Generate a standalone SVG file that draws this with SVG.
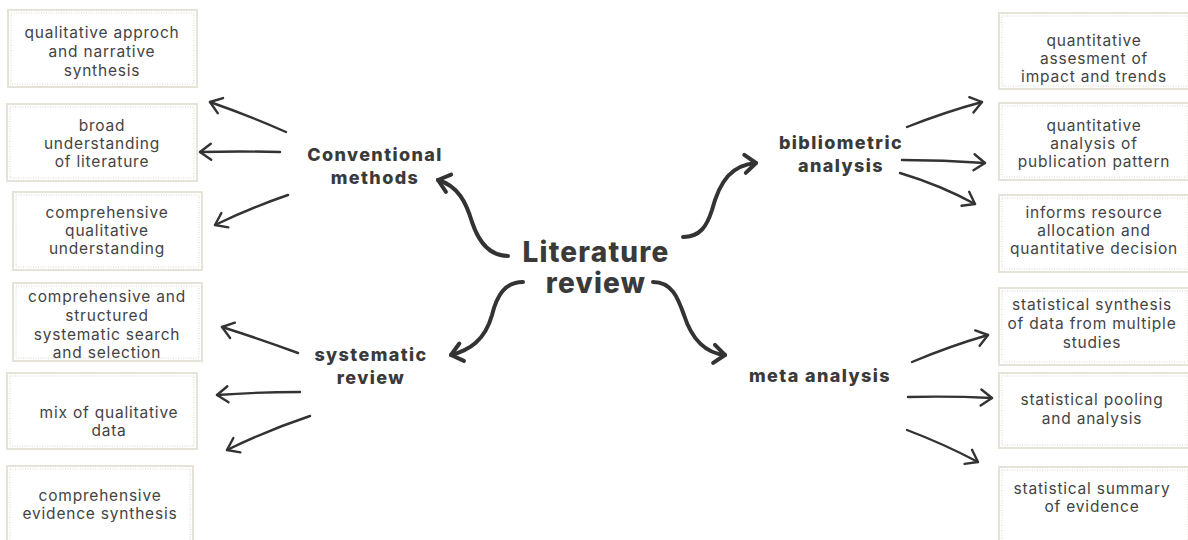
<svg xmlns="http://www.w3.org/2000/svg" width="1188" height="540" viewBox="0 0 1188 540">
  <style>
    .box-outer { fill: #ffffff; stroke: #e5e2d7; stroke-width: 2; }
    .box-inner { fill: none; stroke: #d9d6cb; stroke-width: 1; stroke-dasharray: 1 1.5; }
    .txt { font-family: Inter, "Open Sans", sans-serif; font-size: 15.5px; letter-spacing: 0.8px; fill: #444444; text-anchor: middle; }
    .cat { font-family: Inter, "Open Sans", sans-serif; font-size: 18px; letter-spacing: 1.4px; font-weight: 800; fill: #3a3a3a; text-anchor: middle; }
    .hub { font-family: Inter, "Open Sans", sans-serif; font-size: 28px; letter-spacing: 1.2px; font-weight: 800; fill: #3a3a3a; text-anchor: middle; }
    .thin { fill: none; stroke: #333333; stroke-width: 2.4; stroke-linecap: round; marker-end: url(#headThin); }
    .thick { fill: none; stroke: #333333; stroke-width: 4; stroke-linecap: round; marker-end: url(#headThick); }
  </style>
  <defs>
    <marker id="headThin" markerUnits="userSpaceOnUse" viewBox="-14 -10 18 20" markerWidth="18" markerHeight="20" refX="0" refY="0" orient="auto">
      <path d="M-11,-8 L0,0 L-11,8" fill="none" stroke="#333333" stroke-width="2.4" stroke-linecap="round" stroke-linejoin="round"/>
    </marker>
    <marker id="headThick" markerUnits="userSpaceOnUse" viewBox="-14 -12 20 24" markerWidth="20" markerHeight="24" refX="0" refY="0" orient="auto">
      <path d="M-11,-9 L0,0 L-11,9" fill="none" stroke="#333333" stroke-width="4" stroke-linecap="round" stroke-linejoin="round"/>
    </marker>
  </defs>

  <rect x="0" y="0" width="1188" height="540" fill="#ffffff"/>

  <!-- central topic -->
  <g id="literature-review">
    <text class="hub" x="596" y="262">Literature</text>
    <text class="hub" x="596" y="293">review</text>
  </g>

  <!-- branch labels -->
  <g id="conventional-methods">
    <text class="cat" x="375" y="161">Conventional</text>
    <text class="cat" x="375" y="184">methods</text>
  </g>
  <g id="bibliometric-analysis">
    <text class="cat" x="841" y="149">bibliometric</text>
    <text class="cat" x="841" y="172">analysis</text>
  </g>
  <g id="systematic-review">
    <text class="cat" x="371" y="361">systematic</text>
    <text class="cat" x="371" y="384">review</text>
  </g>
  <g id="meta-analysis">
    <text class="cat" x="820" y="382">meta analysis</text>
  </g>

  <!-- left column boxes -->
  <g id="qualitative-approach">
    <rect class="box-outer" x="8" y="10" width="189" height="77"/>
    <rect class="box-inner" x="11" y="13" width="183" height="71"/>
    <text class="txt" x="102" y="38">qualitative approch</text>
    <text class="txt" x="102" y="57">and narrative</text>
    <text class="txt" x="102" y="76">synthesis</text>
  </g>
  <g id="broad-understanding">
    <rect class="box-outer" x="7" y="104" width="190" height="77"/>
    <rect class="box-inner" x="10" y="107" width="184" height="71"/>
    <text class="txt" x="102" y="131">broad</text>
    <text class="txt" x="102" y="149">understanding</text>
    <text class="txt" x="102" y="167">of literature</text>
  </g>
  <g id="comprehensive-qualitative">
    <rect class="box-outer" x="13" y="192" width="189" height="78"/>
    <rect class="box-inner" x="16" y="195" width="183" height="72"/>
    <text class="txt" x="107" y="218">comprehensive</text>
    <text class="txt" x="107" y="236">qualitative</text>
    <text class="txt" x="107" y="254">understanding</text>
  </g>
  <g id="structured-search">
    <rect class="box-outer" x="13" y="283" width="189" height="78"/>
    <rect class="box-inner" x="16" y="286" width="183" height="72"/>
    <text class="txt" x="107" y="302">comprehensive and</text>
    <text class="txt" x="107" y="321">structured</text>
    <text class="txt" x="107" y="340">systematic search</text>
    <text class="txt" x="107" y="358">and selection</text>
  </g>
  <g id="mix-qualitative">
    <rect class="box-outer" x="7" y="373" width="190" height="76"/>
    <rect class="box-inner" x="10" y="376" width="184" height="70"/>
    <text class="txt" x="109" y="418">mix of qualitative</text>
    <text class="txt" x="109" y="436">data</text>
  </g>
  <g id="evidence-synthesis">
    <rect class="box-outer" x="7" y="466" width="186" height="78"/>
    <rect class="box-inner" x="10" y="469" width="180" height="72"/>
    <text class="txt" x="100" y="501">comprehensive</text>
    <text class="txt" x="100" y="519">evidence synthesis</text>
  </g>

  <!-- right column boxes -->
  <g id="impact-trends">
    <rect class="box-outer" x="999" y="13" width="192" height="76"/>
    <rect class="box-inner" x="1002" y="16" width="186" height="70"/>
    <text class="txt" x="1094" y="46">quantitative</text>
    <text class="txt" x="1094" y="64">assesment of</text>
    <text class="txt" x="1094" y="82">impact and trends</text>
  </g>
  <g id="publication-pattern">
    <rect class="box-outer" x="999" y="103" width="192" height="77"/>
    <rect class="box-inner" x="1002" y="106" width="186" height="71"/>
    <text class="txt" x="1094" y="131">quantitative</text>
    <text class="txt" x="1094" y="149">analysis of</text>
    <text class="txt" x="1094" y="167">publication pattern</text>
  </g>
  <g id="resource-allocation">
    <rect class="box-outer" x="999" y="195" width="192" height="77"/>
    <rect class="box-inner" x="1002" y="198" width="186" height="71"/>
    <text class="txt" x="1094" y="218">informs resource</text>
    <text class="txt" x="1094" y="236">allocation and</text>
    <text class="txt" x="1094" y="254">quantitative decision</text>
  </g>
  <g id="statistical-synthesis">
    <rect class="box-outer" x="999" y="288" width="192" height="77"/>
    <rect class="box-inner" x="1002" y="291" width="186" height="71"/>
    <text class="txt" x="1092" y="310">statistical synthesis</text>
    <text class="txt" x="1092" y="329">of data from multiple</text>
    <text class="txt" x="1092" y="348">studies</text>
  </g>
  <g id="statistical-pooling">
    <rect class="box-outer" x="999" y="373" width="192" height="75"/>
    <rect class="box-inner" x="1002" y="376" width="186" height="69"/>
    <text class="txt" x="1092" y="405">statistical pooling</text>
    <text class="txt" x="1092" y="424">and analysis</text>
  </g>
  <g id="statistical-summary">
    <rect class="box-outer" x="999" y="467" width="192" height="78"/>
    <rect class="box-inner" x="1002" y="470" width="186" height="72"/>
    <text class="txt" x="1092" y="494">statistical summary</text>
    <text class="txt" x="1092" y="512">of evidence</text>
  </g>

  <!-- connectors -->
  <g id="connectors">
    <!-- hub to branches -->
    <path class="thick" d="M508,256 C488,256 478,240 472,222 C466,202 458,186 438,180"/>
    <path class="thick" d="M683,237 C700,237 707,226 712,210 C720,180 732,165 756,163"/>
    <path class="thick" d="M523,282 C505,282 497,295 492,315 C485,340 470,350 451,355"/>
    <path class="thick" d="M653,282 C672,282 678,298 684,315 C692,340 705,353 725,355"/>

    <!-- conventional methods -->
    <path class="thin" d="M286,132 Q250,116 210,102"/>
    <path class="thin" d="M280,152 Q240,151 200,152"/>
    <path class="thin" d="M288,195 Q250,208 215,225"/>

    <!-- systematic review -->
    <path class="thin" d="M298,353 Q260,339 222,327"/>
    <path class="thin" d="M300,392 Q258,392 217,395"/>
    <path class="thin" d="M310,416 Q268,430 227,450"/>

    <!-- bibliometric analysis -->
    <path class="thin" d="M907,127 Q945,112 982,102"/>
    <path class="thin" d="M902,160 Q944,160 985,163"/>
    <path class="thin" d="M900,173 Q940,185 975,204"/>

    <!-- meta analysis -->
    <path class="thin" d="M912,362 Q950,346 988,335"/>
    <path class="thin" d="M908,397 Q950,396 992,398"/>
    <path class="thin" d="M907,430 Q944,444 978,462"/>
  </g>
</svg>
